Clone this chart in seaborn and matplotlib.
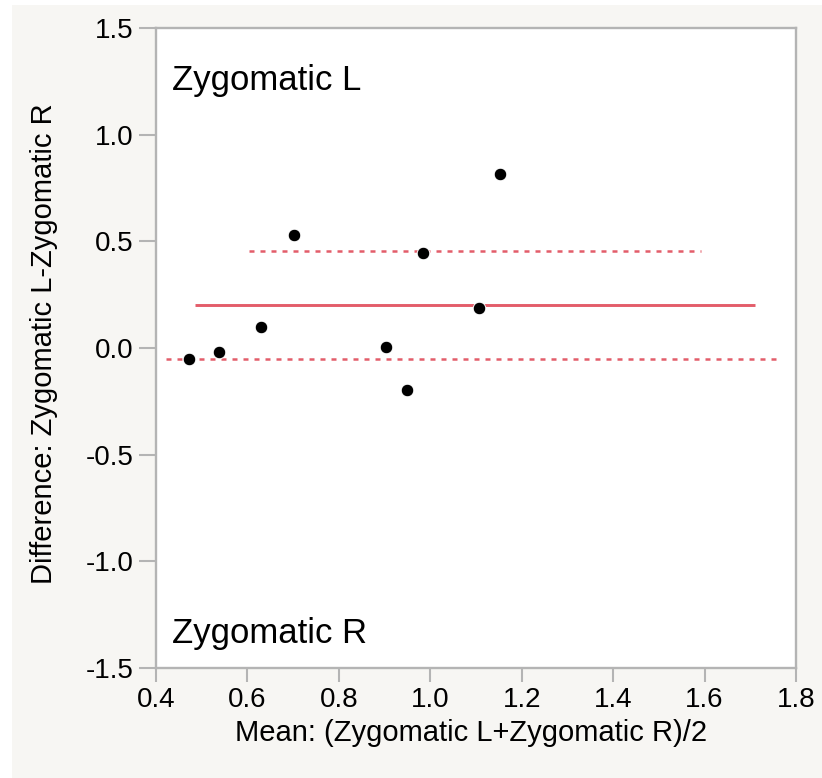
import matplotlib
matplotlib.use("Agg")
import matplotlib.pyplot as plt
import matplotlib.patches as mpatches
import seaborn as sns
import pandas as pd

# Paired measurements: mean of the two sides vs. their difference
mean_lr = [0.473, 0.537, 0.629, 0.701, 0.903, 0.948, 0.983, 1.106, 1.153]
diff_lr = [-0.053, -0.017, 0.098, 0.530, 0.006, -0.197, 0.447, 0.189, 0.816]

# Mean difference and its confidence limits, with the x-span each line covers
mean_diff = 0.202
upper_limit = 0.455
lower_limit = -0.052
mean_span = (0.485, 1.711)
upper_span = (0.604, 1.592)
lower_span = (0.421, 1.767)

x_ticks = [0.4, 0.6, 0.8, 1.0, 1.2, 1.4, 1.6, 1.8]
y_ticks = [-1.5, -1.0, -0.5, 0.0, 0.5, 1.0, 1.5]

df = pd.DataFrame({"mean": mean_lr, "diff": diff_lr})

sns.set_style("white")
plt.rcParams["font.family"] = ["Liberation Sans", "DejaVu Sans"]

panel_bg = "#f7f6f3"
spine_col = "#b4b4b4"
red = "#e35d6a"

fig = plt.figure(figsize=(8.22, 7.78), dpi=100, facecolor="white")
fig.patches.append(mpatches.Rectangle((12 / 822, 0), 1 - 12 / 822, 1 - 5 / 778,
                                      transform=fig.transFigure, facecolor=panel_bg,
                                      edgecolor="none", zorder=-10))
ax = fig.add_axes([156 / 822, 1 - 668 / 778, 640 / 822, 640 / 778])
ax.set_facecolor("white")

ax.hlines(mean_diff, *mean_span, color=red, lw=2.1, zorder=2)
ax.hlines(upper_limit, *upper_span, color=red, lw=1.8, linestyles=(0, (2.0, 2.4)), zorder=2)
ax.hlines(lower_limit, *lower_span, color=red, lw=1.8, linestyles=(0, (2.0, 2.4)), zorder=2)

sns.scatterplot(data=df, x="mean", y="diff", ax=ax, color="black", s=82,
                edgecolor="white", linewidth=0.7, zorder=3, legend=False)

ax.set_xlim(0.4, 1.8)
ax.set_ylim(-1.5, 1.5)
ax.set_xticks(x_ticks)
ax.set_yticks(y_ticks)
ax.set_xticklabels([f"{v:.1f}" for v in x_ticks])
ax.set_yticklabels([f"{v:.1f}" for v in y_ticks])

for s in ax.spines.values():
    s.set_color(spine_col)
    s.set_linewidth(1.7)
ax.tick_params(axis="both", direction="out", color=spine_col, width=1.5,
               labelsize=20, labelcolor="black", bottom=True, left=True)
ax.tick_params(axis="x", length=10, pad=4)
ax.tick_params(axis="y", length=12, pad=4)

ax.set_xlabel("Mean: (Zygomatic L+Zygomatic R)/2", fontsize=21, color="black")
ax.set_ylabel("Difference: Zygomatic L-Zygomatic R", fontsize=21, color="black")
ax.xaxis.set_label_coords(0.493, -0.08)
ax.yaxis.set_label_coords(-0.153, 0.507)

ax.text(0.025, 0.903, "Zygomatic L", transform=ax.transAxes, fontsize=25,
        ha="left", va="baseline", color="black")
ax.text(0.025, 0.039, "Zygomatic R", transform=ax.transAxes, fontsize=25,
        ha="left", va="baseline", color="black")

fig.savefig("out.png", dpi=100, facecolor=fig.get_facecolor())
